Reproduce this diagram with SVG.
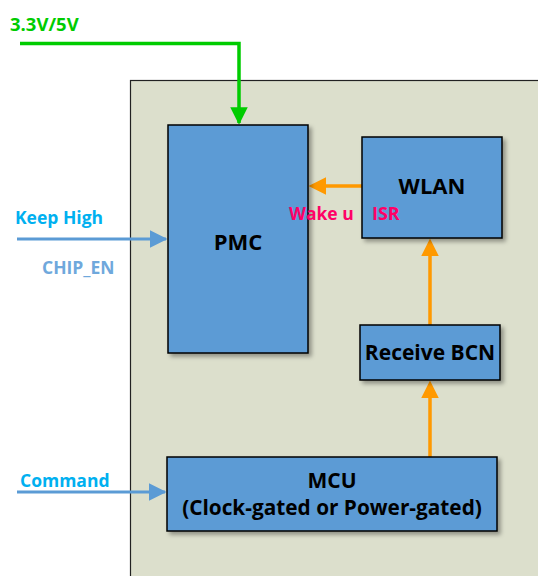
<svg xmlns="http://www.w3.org/2000/svg" width="538" height="576" viewBox="0 0 538 576">
<style>
.box{fill:#5b9bd5;stroke:#000;stroke-width:1.5;filter:url(#sh)}
.t{font-family:"Open Sans","Liberation Sans",sans-serif;font-weight:bold;fill:#000;text-anchor:middle}
.lbl{font-family:"Open Sans","Liberation Sans",sans-serif;font-weight:bold}
.or{stroke:#ff9900;stroke-width:3.5;fill:none}
</style>
<defs>
<filter id="sh" x="-10%" y="-10%" width="130%" height="130%">
<feDropShadow dx="3" dy="3" stdDeviation="2" flood-color="#000" flood-opacity="0.35"/>
</filter>
<marker id="ao" markerWidth="5" markerHeight="5" refX="4" refY="2.5" orient="auto" markerUnits="strokeWidth"><path d="M0,0 L5,2.5 L0,5 Z" fill="#ff9900"/></marker>
<marker id="ab" markerWidth="6" markerHeight="6" refX="5.5" refY="3" orient="auto" markerUnits="strokeWidth"><path d="M0,0 L6,3 L0,6 Z" fill="#5b9bd5"/></marker>
<marker id="ag" markerWidth="5" markerHeight="5" refX="4.5" refY="2.5" orient="auto" markerUnits="strokeWidth"><path d="M0,0 L5,2.5 L0,5 Z" fill="#00cc00"/></marker>
</defs>
<rect x="130.5" y="80.5" width="420" height="510" fill="#dcdfcc" stroke="#222" stroke-width="1.2"/>
<g id="connectors">
<path d="M20,43.5 H239 V123" stroke="#00cc00" stroke-width="3.5" fill="none" marker-end="url(#ag)"/>
<path d="M17,239 H166" stroke="#5b9bd5" stroke-width="3" fill="none" marker-end="url(#ab)"/>
<path d="M17,492 H165" stroke="#5b9bd5" stroke-width="3" fill="none" marker-end="url(#ab)"/>
<path d="M362,186 H312" class="or" marker-end="url(#ao)"/>
<path d="M430,325 V242" class="or" marker-end="url(#ao)"/>
<path d="M430,457 V384" class="or" marker-end="url(#ao)"/>
</g>
<g id="pmc"><rect class="box" x="168" y="125" width="140" height="228"/><text class="t" x="238" y="250" font-size="22">PMC</text></g>
<g id="wlan"><rect class="box" x="362" y="137" width="140" height="101"/><text class="t" x="432" y="194" font-size="22">WLAN</text></g>
<g id="bcn"><rect class="box" x="360" y="325" width="140" height="55"/><text class="t" x="430" y="360" font-size="21">Receive BCN</text></g>
<g id="mcu"><rect class="box" x="167" y="457" width="330" height="74"/><text class="t" x="332" y="488" font-size="21">MCU</text><text class="t" x="332" y="515" font-size="20.8">(Clock-gated or Power-gated)</text></g>
<text class="lbl" x="10" y="31" font-size="18.5" fill="#00cc00">3.3V/5V</text>
<text class="lbl" x="15" y="224" font-size="17.5" fill="#00b0f0">Keep High</text>
<text class="lbl" x="42" y="274" font-size="17.5" fill="#6fa8dc">CHIP_EN</text>
<text class="lbl" x="20" y="487" font-size="17.5" fill="#00b0f0">Command</text>
<text class="lbl" x="289" y="220" font-size="17.5" fill="#ff0066">Wake u</text>
<text class="lbl" x="372" y="220" font-size="18" fill="#ff0066">ISR</text>
</svg>
